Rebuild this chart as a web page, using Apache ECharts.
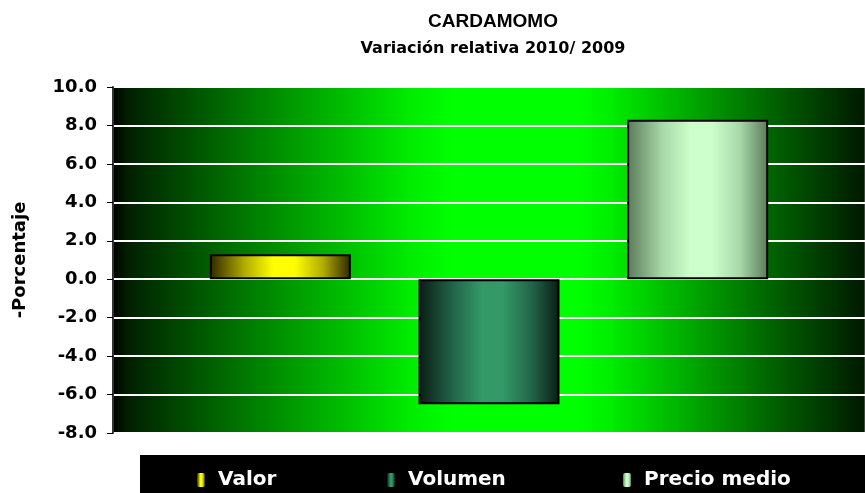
<!DOCTYPE html>
<html>
<head>
<meta charset="utf-8">
<script src="https://cdn.jsdelivr.net/npm/echarts@6/dist/echarts.min.js"></script>
<style>
  html, body { margin: 0; padding: 0; background: #fff; }
  #chart { width: 865px; height: 493px; }
</style>
</head>
<body>
<div id="chart"></div>
<script>
// data
var categories = ["2010/2009"];
var seriesNames = ["Valor", "Volumen", "Precio medio"];
var valor = [1.3];
var volumen = [-6.5];
var precioMedio = [8.3];
var yTicks = { min: -8, max: 10, interval: 2 };

// horizontal gradient helper (edge -> center -> edge)
function barGrad(edge, mid, center) {
  return new echarts.graphic.LinearGradient(0, 0, 1, 0, [
    { offset: 0, color: edge },
    { offset: 0.25, color: mid },
    { offset: 0.45, color: center },
    { offset: 0.6, color: center },
    { offset: 0.8, color: mid },
    { offset: 1, color: edge }
  ]);
}

var plotBg = new echarts.graphic.LinearGradient(0, 0, 1, 0, [
  { offset: 0, color: "#000000" },
  { offset: 0.02, color: "#002000" },
  { offset: 0.12, color: "#005a00" },
  { offset: 0.25, color: "#00a000" },
  { offset: 0.4, color: "#00ee00" },
  { offset: 0.45, color: "#00ff00" },
  { offset: 0.62, color: "#00ff00" },
  { offset: 0.66, color: "#00ee00" },
  { offset: 0.78, color: "#00a000" },
  { offset: 0.89, color: "#005a00" },
  { offset: 1, color: "#001800" }
]);

var colors = [
  barGrad("#2e2600", "#b3ad00", "#ffff00"),
  barGrad("#0a1c14", "#22664a", "#339966"),
  barGrad("#5a7a5a", "#a8d8a8", "#ccffcc")
];

var legendText = {
  color: "#fff",
  fontFamily: "DejaVu Sans",
  fontWeight: "bold",
  fontSize: 20,
  padding: [0, 0, 0, 8]
};

function legendAt(name, x) {
  return {
    data: [name],
    left: x,
    top: 470,
    padding: 0,
    itemWidth: 8,
    itemHeight: 14,
    itemStyle: { borderWidth: 0 },
    selectedMode: false,
    textStyle: legendText
  };
}

var chart = echarts.init(document.getElementById("chart"));

var seriesData = [valor, volumen, precioMedio];
var series = seriesNames.map(function (name, i) {
  return {
    name: name,
    type: "bar",
    data: seriesData[i],
    barWidth: 141,
    barGap: "48%",
    itemStyle: { color: colors[i], borderColor: "#000", borderWidth: 2 }
  };
});

chart.setOption({
  animation: false,
  title: [
    {
      text: "CARDAMOMO",
      left: 488,
      top: 7,
      textAlign: "center",
      textStyle: { fontFamily: "Liberation Sans", fontWeight: "bold", fontSize: 19, color: "#000" }
    },
    {
      text: "Variación relativa 2010/ 2009",
      left: 488,
      top: 36,
      textAlign: "center",
      textStyle: { fontFamily: "DejaVu Sans", fontWeight: "bold", fontSize: 16, color: "#000" }
    }
  ],
  graphic: [
    { type: "rect", shape: { x: 140, y: 455, width: 725, height: 38 }, style: { fill: "#000" }, z: -1 }
  ],
  legend: [
    legendAt("Valor", 197),
    legendAt("Volumen", 387),
    legendAt("Precio medio", 623)
  ],
  grid: {
    left: 113,
    right: 0,
    top: 87,
    bottom: 60,
    show: true,
    backgroundColor: plotBg,
    borderColor: "#808080",
    borderWidth: 1
  },
  xAxis: {
    type: "category",
    data: categories,
    axisLine: { show: false },
    axisTick: { show: false },
    axisLabel: { show: false }
  },
  yAxis: {
    type: "value",
    min: yTicks.min,
    max: yTicks.max,
    interval: yTicks.interval,
    name: "-Porcentaje",
    nameLocation: "middle",
    nameRotate: 90,
    nameGap: 84,
    nameTextStyle: { fontFamily: "DejaVu Sans", fontWeight: "bold", fontSize: 18, color: "#000" },
    axisLine: { show: true, lineStyle: { color: "#333", width: 2 } },
    axisTick: { show: true, length: 6, lineStyle: { color: "#000", width: 1 } },
    axisLabel: {
      margin: 16,
      fontFamily: "DejaVu Sans",
      fontWeight: "bold",
      fontSize: 18,
      color: "#000",
      formatter: function (v) { return v.toFixed(1); }
    },
    splitLine: { show: true, lineStyle: { color: "#ffffff", width: 2 } }
  },
  series: series
});
</script>
</body>
</html>
